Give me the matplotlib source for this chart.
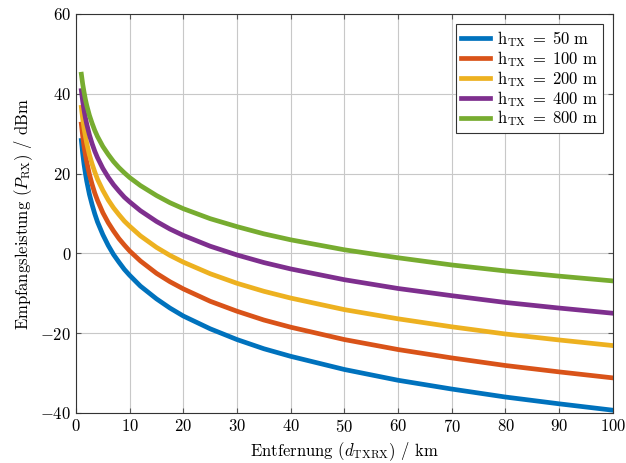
import matplotlib
matplotlib.use("Agg")
import matplotlib.pyplot as plt

plt.rcParams["font.family"] = "serif"
plt.rcParams["font.serif"] = ["cmr10", "DejaVu Serif"]
plt.rcParams["mathtext.fontset"] = "cm"
plt.rcParams["axes.formatter.use_mathtext"] = True

# distance in km
dist = [1, 1.25, 1.5, 1.75, 2, 2.5, 3, 3.5, 4, 5, 6, 7, 8, 9, 10, 12, 15, 17.5, 20,
        25, 30, 35, 40, 50, 60, 70, 80, 90, 100]

# received power in dBm
p_50 = [28.3, 25.0, 22.3, 20.1, 18.1, 14.8, 12.2, 9.9, 7.9, 4.7, 2.0, -0.3, -2.2, -4.0,
        -5.5, -8.2, -11.4, -13.7, -15.7, -18.9, -21.6, -23.9, -25.8, -29.1, -31.8,
        -34.0, -36.0, -37.7, -39.3]
p_100 = [32.4, 29.4, 26.8, 24.7, 22.9, 19.8, 17.3, 15.1, 13.3, 10.2, 7.7, 5.6, 3.7, 2.1,
         0.6, -1.9, -5.0, -7.1, -8.9, -12.0, -14.5, -16.7, -18.5, -21.6, -24.1,
         -26.2, -28.1, -29.7, -31.2]
p_200 = [36.6, 33.7, 31.3, 29.4, 27.6, 24.7, 22.4, 20.4, 18.6, 15.8, 13.4, 11.4, 9.7, 8.1,
         6.8, 4.4, 1.5, -0.5, -2.2, -5.1, -7.5, -9.5, -11.2, -14.1, -16.4,
         -18.4, -20.2, -21.7, -23.1]
p_400 = [40.8, 38.1, 35.9, 34.0, 32.4, 29.7, 27.5, 25.6, 24.0, 21.3, 19.1, 17.2, 15.6, 14.1,
         12.9, 10.7, 8.0, 6.1, 4.5, 1.8, -0.4, -2.3, -3.9, -6.6, -8.8,
         -10.6, -12.3, -13.7, -15.0]
p_800 = [44.9, 42.4, 40.4, 38.6, 37.1, 34.6, 32.6, 30.8, 29.3, 26.8, 24.8, 23.0, 21.5, 20.2,
         19.0, 17.0, 14.5, 12.7, 11.2, 8.7, 6.7, 4.9, 3.4, 0.9, -1.1,
         -2.9, -4.4, -5.7, -6.9]

heights = ["50", "100", "200", "400", "800"]
colors = ["#0072BD", "#D95319", "#EDB120", "#7E2F8E", "#77AC30"]

fig = plt.figure(figsize=(6.26, 4.63), dpi=100)
ax = fig.add_axes([0.1214, 0.108, 0.8576, 0.8618])

for h, p, c in zip(heights, [p_50, p_100, p_200, p_400, p_800], colors):
    ax.plot(dist, p, color=c, lw=3.4, solid_joinstyle="round",
            label=r"$\mathrm{h_{TX}}\;=\;" + h + r"\ \mathrm{m}$")

ax.set_xlim(0, 100)
ax.set_ylim(-40, 60)
ax.set_xticks(range(0, 101, 10))
ax.set_yticks(range(-40, 61, 20))
ax.grid(color="#c8c8c8", lw=0.8)
ax.tick_params(direction="in", top=True, right=True, labelsize=12, color="#555555")
for s in ax.spines.values():
    s.set_color("#333333")
ax.set_xlabel(r"Entfernung ($d_\mathrm{TXRX}$) / km", fontsize=12)
ax.set_ylabel(r"Empfangsleistung ($P_\mathrm{RX}$) / dBm", fontsize=12)

leg = ax.legend(loc="upper right", fontsize=12, fancybox=False, framealpha=1,
                edgecolor="#333333", handlelength=1.75, handletextpad=0.45,
                borderpad=0.3, labelspacing=0.0, borderaxespad=0.6)
leg.get_frame().set_linewidth(0.8)

fig.savefig("out.png", dpi=100)
